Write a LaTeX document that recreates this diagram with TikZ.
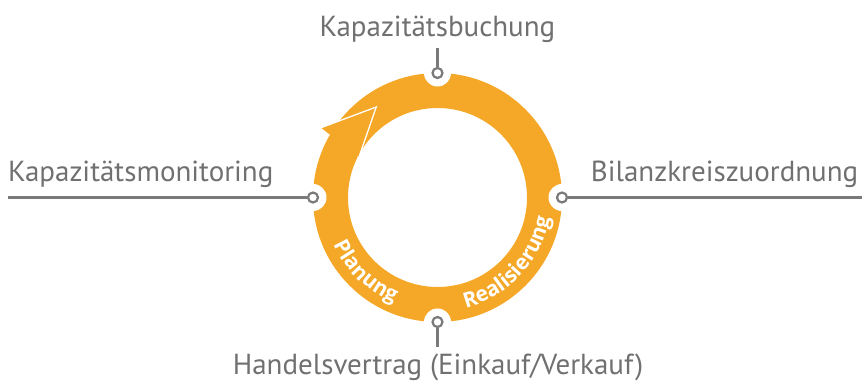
\documentclass[tikz,border=0pt]{standalone}
\usepackage{fontspec}
\setmainfont{PT Sans}
\newfontfamily\ringfam{Open Sans}
\usetikzlibrary{decorations.text,positioning}
\definecolor{ringorange}{RGB}{245,168,40}
\definecolor{linegray}{RGB}{122,122,122}
\definecolor{taggray}{RGB}{112,112,112}
\newcommand\ringfont{\ringfam\fontsize{21}{21}\selectfont\bfseries}

\begin{document}
\begin{tikzpicture}[x=1pt,y=1pt,
	tag/.style={text=taggray,font=\fontsize{29}{29}\selectfont,inner sep=0pt},
	port/.style={circle,draw=linegray,line width=2.2pt,fill=white,minimum size=10pt,inner sep=0pt},
	notch/.style={circle,fill=white,minimum size=27pt,inner sep=0pt},
	conn/.style={draw=linegray,line width=2.3pt},
	ringtext/.style={font=\ringfont,decorate,decoration={text along path,text align=center,text color=white,
		text={|\ringfont|#1}}}]
	\useasboundingbox (-437.5,-187.5) rectangle (427.5,197.5);

	\fill[ringorange,even odd rule] (0,0) circle (124.5) circle (89.5);

	\coordinate (tip) at (-62.5,89.2);
	\coordinate (barbout) at (-115.8,69.2);
	\coordinate (barbin) at (-79.2,40.8);
	\draw[white,line width=2.8pt] (barbout) -- (tip) -- (barbin);
	\fill[ringorange] (barbout) -- (tip) -- (barbin) -- cycle;

	\path[ringtext=Planung] (180:114) arc (180:272:114);
	\path[ringtext=Realisierung] (262:114) arc (262:372:114);

	\foreach \a/\n in {90/T,0/R,270/B,180/L} {
		\node[notch] (n\n) at (\a:124.5) {};
		\node[port] (\n) at (\a:124.5) {};
	}

	\coordinate (Tend) at (0,149.5);
	\coordinate (Rend) at (424.5,0);
	\coordinate (Bend) at (0,-149.5);
	\coordinate (Lend) at (-429.5,0);
	\path[conn] (T) -- (Tend);
	\path[conn] (R) -- (Rend);
	\path[conn] (B) -- (Bend);
	\path[conn] (L) -- (Lend);

	\node[tag,anchor=base] (book) at (0,160.8) {Kapazitätsbuchung};
	\node[tag,anchor=base west] (monitor) at (-429.5,15.5) {Kapazitätsmonitoring};
	\node[tag,anchor=base east] (balance) at (421,15.5) {Bilanzkreiszuordnung};
	\node[tag,anchor=base] (trade) at (0.5,-177.5) {Handelsvertrag (Einkauf/Verkauf)};
\end{tikzpicture}
\end{document}
